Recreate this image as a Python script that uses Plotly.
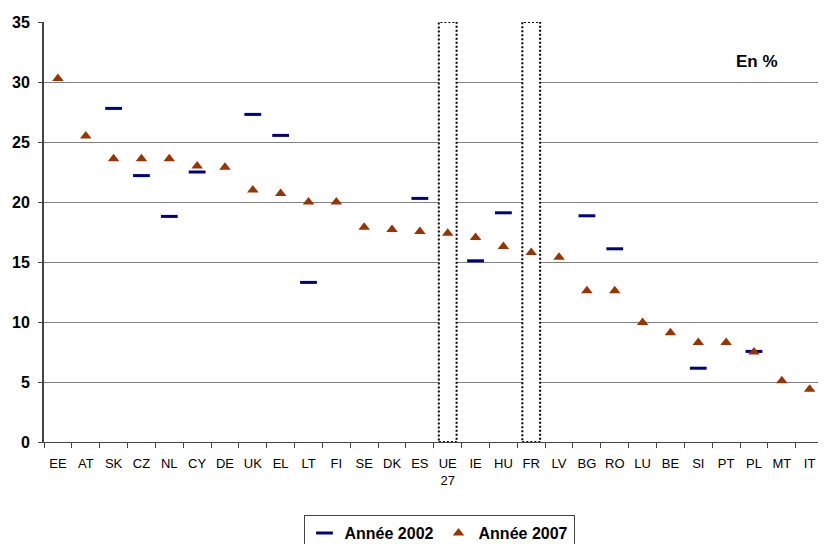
import plotly.graph_objects as go

categories = ["EE", "AT", "SK", "CZ", "NL", "CY", "DE", "UK", "EL", "LT", "FI", "SE", "DK", "ES",
              "UE<br>27", "IE", "HU", "FR", "LV", "BG", "RO", "LU", "BE", "SI", "PT", "PL", "MT", "IT"]
annee_2002 = [None, None, 27.8, 22.2, 18.8, 22.5, None, 27.3, 25.55, 13.3, None, None, None, 20.3,
              None, 15.1, 19.1, None, None, 18.85, 16.1, None, None, 6.15, None, 7.55, None, None]
annee_2007 = [30.3, 25.5, 23.6, 23.6, 23.6, 23.0, 22.9, 21.0, 20.7, 20.0, 20.0, 17.9, 17.7, 17.55,
              17.4, 17.05, 16.3, 15.8, 15.4, 12.6, 12.6, 9.95, 9.1, 8.3, 8.3, 7.5, 5.1, 4.4]
highlighted = ["UE<br>27", "FR"]

FONT = "Liberation Sans, Arial, sans-serif"

# the page body has an 8px margin, so the figure is sized to fit inside the window
W, H = 810, 536
L, T, B = 36, 14, 102
PW, PH = W - L, H - T - B

fig = go.Figure()
fig.add_trace(go.Scatter(
    x=categories, y=annee_2002, mode="markers", name="<b>Année 2002</b>",
    marker=dict(symbol="line-ew", size=12, line=dict(width=3, color="#000080"), color="#000080"),
))
fig.add_trace(go.Scatter(
    x=categories, y=annee_2007, mode="markers", name="<b>Année 2007</b>",
    marker=dict(symbol="triangle-up", size=10, color="#993300", line=dict(width=0)),
))

for c in highlighted:
    i = categories.index(c)
    fig.add_shape(type="rect", xref="x", yref="y", x0=i - 0.32, x1=i + 0.32, y0=0, y1=35,
                  fillcolor="white", line=dict(color="black", width=2, dash="2px,2px"),
                  layer="between")

fig.add_annotation(text="<b>En %</b>", xref="paper", yref="paper", x=(780 - 44) / PW, y=(442 - 50) / PH,
                   showarrow=False, font=dict(family=FONT, size=17, color="black"))

fig.update_layout(
    width=W, height=H,
    margin=dict(l=L, r=0, t=T, b=B, autoexpand=False),
    paper_bgcolor="white", plot_bgcolor="white",
    font=dict(family=FONT, color="black"),
    showlegend=True,
    legend=dict(orientation="h", x=(439 - 44) / PW, xanchor="center", y=-(515 - 442) / PH, yanchor="top",
                bordercolor="#444", borderwidth=1, bgcolor="white",
                font=dict(family=FONT, size=16, color="black"),
                itemwidth=30, tracegroupgap=0),
    xaxis=dict(type="category", categoryorder="array", categoryarray=categories,
               range=[-0.5, 27.3], tickson="boundaries", ticks="outside", ticklen=5,
               tickcolor="#444", showline=True, linecolor="#444", linewidth=1,
               showgrid=False, ticklabelstandoff=9, tickangle=0,
               tickfont=dict(family=FONT, size=13, color="black")),
    yaxis=dict(range=[0, 35], dtick=5, tick0=0, ticks="outside", ticklen=4, tickcolor="#444",
               showline=True, linecolor="#444", linewidth=2, showgrid=True, gridcolor="#808080",
               gridwidth=1, zeroline=False, ticklabelstandoff=5,
               tickfont=dict(family=FONT, size=16, color="black"), tickprefix="<b>", ticksuffix="</b>"),
)

fig.write_html("out.html")
